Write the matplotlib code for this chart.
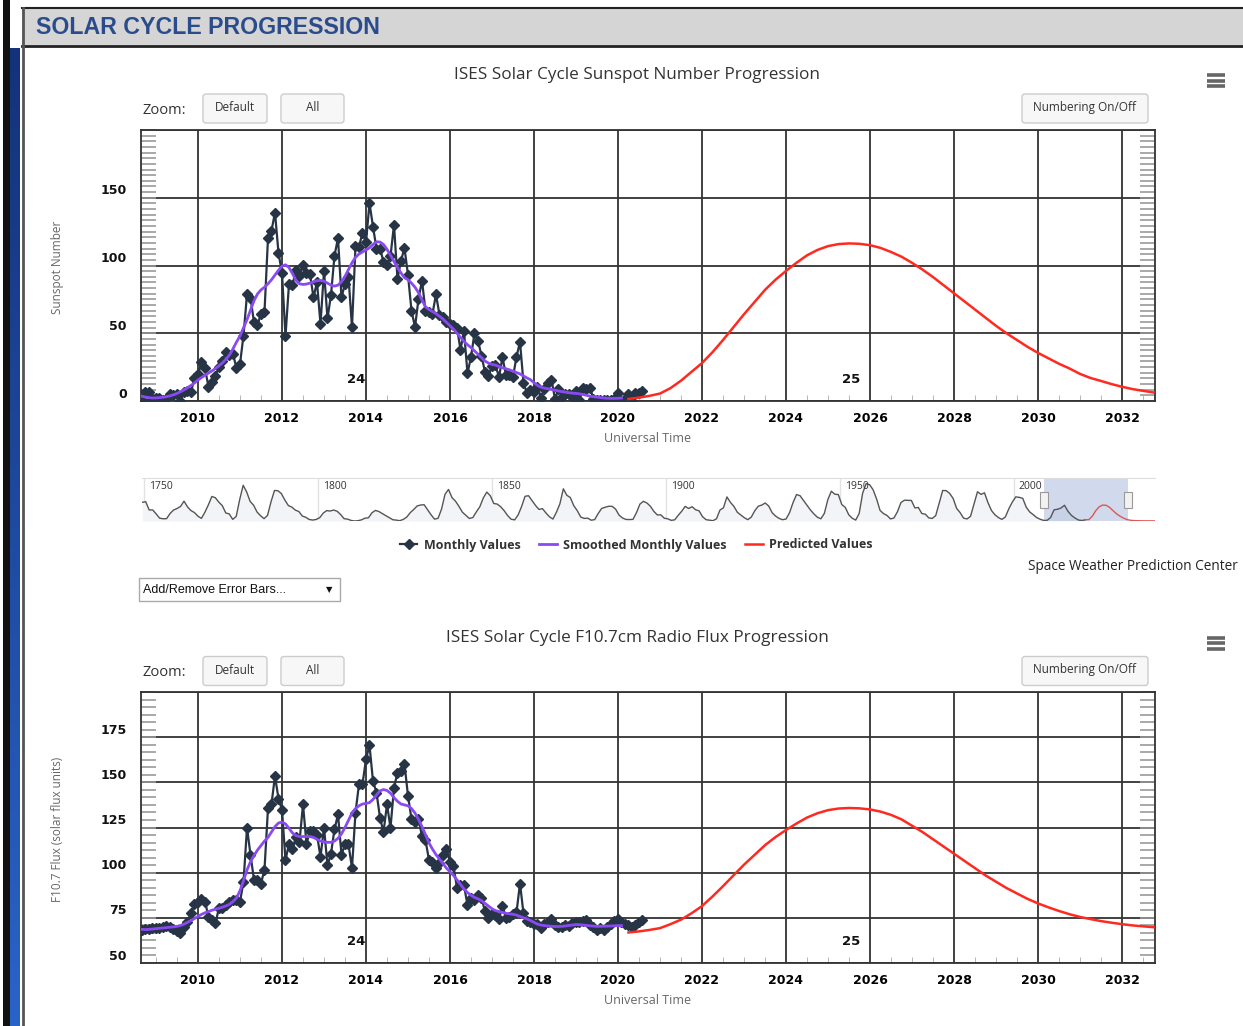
import matplotlib
matplotlib.use('Agg')
import matplotlib.pyplot as plt
import matplotlib.transforms as mtransforms
from matplotlib.patches import Rectangle, FancyBboxPatch
from matplotlib.lines import Line2D
from matplotlib.ticker import MultipleLocator
import numpy as np

W, H = 1243, 1026

# monthly sunspot number, Aug 2008 .. Aug 2020
ssn_monthly = [0.5, 1.1, 6.9, 6.5, 1.7,
               2.3, 2.2, 0.9, 1.2, 5.5, 4.4, 5.4, 0.0, 6.9, 7.6, 6.4, 17.3,
               19.6, 28.5, 24.0, 10.4, 13.9, 18.8, 25.2, 29.6, 36.4, 33.6, 34.4, 24.5,
               27.3, 48.3, 78.6, 76.1, 58.2, 56.1, 64.5, 65.8, 120.1, 125.7, 139.1, 109.3,
               94.4, 47.8, 86.6, 85.9, 96.5, 92.0, 100.1, 94.8, 93.7, 76.5, 87.6, 56.8,
               96.1, 60.9, 78.3, 107.3, 120.2, 76.7, 86.2, 91.8, 54.5, 114.4, 113.9, 124.2,
               117.0, 146.1, 128.7, 112.5, 112.5, 102.9, 100.2, 106.9, 130.0, 90.0, 103.6, 112.9,
               93.0, 66.7, 54.5, 75.3, 88.8, 66.5, 65.8, 64.4, 78.6, 63.6, 62.2, 58.0,
               57.0, 56.4, 54.1, 37.9, 51.5, 20.5, 32.4, 50.2, 44.6, 33.4, 21.4, 18.5,
               26.1, 26.4, 17.7, 32.3, 18.9, 19.2, 17.8, 32.6, 43.7, 13.2, 5.7, 8.2,
               6.8, 10.7, 2.5, 8.9, 13.1, 15.6, 1.6, 8.7, 3.3, 4.9, 4.9, 3.1,
               7.7, 0.8, 9.4, 9.1, 9.9, 1.2, 0.9, 0.5, 1.1, 0.4, 0.5, 1.5,
               6.2, 0.2, 1.5, 5.2, 0.2, 5.8, 6.1, 7.5]

# 13-month smoothed sunspot number, Aug 2008 .. Feb 2020
ssn_smoothed = [4.1, 3.5, 2.9, 2.5, 2.2,
                2.3, 2.5, 2.8, 3.2, 3.8, 4.6, 5.6, 6.8, 8.2, 9.8, 11.5, 13.3,
                15.5, 17.3, 19.0, 20.6, 22.2, 24.0, 26.0, 28.2, 30.8, 34.0, 38.5, 43.5,
                48.0, 54.0, 60.0, 67.0, 74.0, 79.0, 82.0, 84.0, 86.5, 89.5, 93.0, 96.5,
                99.5, 100.5, 98.5, 94.0, 89.0, 86.5, 86.0, 86.3, 87.0, 88.0, 88.8, 89.0,
                88.5, 87.0, 85.5, 84.8, 85.5, 88.0, 92.0, 97.0, 102.0, 106.0, 108.5, 110.0,
                111.5, 113.0, 115.5, 117.5, 117.3, 115.5, 112.0, 107.5, 103.0, 98.5, 94.5, 91.0,
                89.5, 87.0, 84.0, 80.0, 74.5, 69.5, 67.5, 66.0, 64.5, 62.5, 60.5, 58.0,
                55.5, 53.0, 50.0, 47.0, 44.0, 41.5, 39.5, 37.0, 34.5, 32.0, 29.5, 28.0,
                27.0, 26.5, 25.5, 24.5, 23.8, 23.0, 22.0, 21.0, 20.0, 18.5, 17.0, 15.7,
                13.5, 11.5, 10.2, 9.5, 9.0, 8.5, 8.0, 7.4, 6.9, 6.5, 6.1, 5.8,
                5.6, 5.3, 4.8, 4.2, 3.6, 3.2, 2.9, 2.5, 2.2, 2.0, 1.9, 1.9,
                2.0, 2.2]

# monthly F10.7 flux, Aug 2008 .. Aug 2020
f107_monthly = [67.0, 68.3, 68.7, 68.9, 69.3,
                69.3, 69.5, 70.0, 70.7, 70.0, 68.7, 67.6, 66.5, 70.0, 72.6, 77.8, 82.4,
                84.0, 85.4, 84.0, 75.7, 74.0, 72.2, 80.5, 80.5, 82.0, 83.5, 85.0, 85.0,
                84.0, 94.7, 124.8, 110.0, 96.0, 96.0, 94.0, 101.7, 135.6, 138.0, 153.5, 141.0,
                134.6, 107.0, 116.0, 113.0, 120.0, 117.0, 137.8, 116.0, 123.0, 123.0, 121.0, 108.7,
                125.0, 104.0, 110.6, 124.0, 132.2, 110.0, 115.6, 115.6, 102.6, 133.2, 149.0, 149.0,
                162.8, 170.5, 150.7, 144.3, 130.5, 122.4, 137.8, 124.8, 147.0, 155.4, 156.3, 160.0,
                142.6, 129.7, 127.8, 129.5, 120.4, 118.0, 107.0, 106.0, 102.4, 105.5, 110.0, 113.0,
                106.0, 103.5, 91.6, 93.4, 93.1, 81.9, 85.9, 85.0, 87.8, 86.1, 78.6, 75.1,
                77.3, 76.8, 74.5, 81.5, 75.0, 75.5, 77.0, 78.0, 94.0, 77.5, 73.5, 72.8,
                71.5, 71.8, 69.1, 71.8, 72.8, 74.6, 71.0, 70.0, 70.0, 71.0, 70.4, 72.0,
                72.5, 72.8, 73.3, 74.0, 71.0, 70.0, 68.2, 69.1, 68.2, 70.0, 71.8, 73.5,
                74.6, 72.8, 71.8, 71.0, 70.0, 71.0, 72.5, 74.0]

# smoothed F10.7 flux, Aug 2008 .. Feb 2020
f107_smoothed = [68.8, 68.6, 68.5, 68.6, 68.8,
                 69.0, 69.2, 69.4, 69.6, 69.8, 70.0, 70.3, 70.8, 71.5, 72.5, 73.5, 74.6,
                 75.8, 76.9, 77.8, 78.5, 79.2, 79.8, 80.3, 80.9, 81.6, 82.5, 84.0, 86.0,
                 90.0, 95.5, 101.5, 106.0, 109.5, 112.5, 115.0, 117.5, 119.5, 122.5, 125.5, 127.5,
                 128.0, 127.0, 124.5, 122.0, 120.5, 120.0, 120.0, 120.0, 120.0, 119.5, 118.5, 117.5,
                 117.0, 116.8, 116.8, 117.5, 119.0, 121.5, 125.0, 129.0, 133.0, 135.5, 137.0, 138.0,
                 138.3, 138.8, 140.5, 143.0, 145.3, 146.0, 145.5, 144.0, 141.5, 139.5, 138.0, 137.5,
                 137.0, 135.5, 133.0, 129.5, 125.5, 121.0, 116.5, 113.0, 110.0, 107.5, 105.0, 102.5,
                 100.5, 98.5, 96.0, 93.5, 91.0, 89.0, 87.5, 86.3, 85.5, 84.5, 83.0, 81.5,
                 80.0, 79.0, 78.5, 78.0, 77.5, 77.2, 77.0, 76.5, 75.8, 75.0, 74.4, 73.5,
                 72.5, 71.5, 71.0, 70.7, 70.5, 70.3, 70.2, 70.2, 70.3, 70.5, 70.8, 71.0,
                 71.3, 71.2, 71.0, 70.8, 70.6, 70.4, 70.3, 70.3, 70.4, 70.4, 70.5, 70.6,
                 70.7, 70.7]

# predicted values, quarterly from 2020.25 to 2032.75
ssn_pred = [1.5, 2.5, 3.8, 5.5, 9.5, 15.0, 21.5, 28.0, 36.0, 45.0, 54.5, 64.0, 73.0,
            82.0, 89.5, 96.0, 102.0, 107.5, 111.5, 114.3, 115.8, 116.3, 116.0, 115.0,
            113.0, 110.0, 106.5, 102.0, 97.0, 91.5, 85.5, 79.5, 73.5, 67.5, 61.5, 55.5,
            50.0, 45.0, 40.0, 35.5, 31.5, 27.5, 24.0, 20.0, 17.0, 14.8, 12.5, 10.5, 8.8,
            7.5, 6.3]
f107_pred = [66.9, 67.5, 68.3, 69.3, 71.5, 74.0, 77.5, 81.5, 86.8, 92.5, 98.5, 104.4,
             109.8, 115.2, 119.7, 123.6, 127.2, 130.5, 132.9, 134.6, 135.5, 135.8, 135.6,
             135.0, 133.8, 132.0, 129.5, 126.0, 122.5, 118.5, 114.5, 110.5, 106.5, 102.5,
             98.5, 95.0, 91.5, 88.5, 85.5, 83.0, 80.8, 78.8, 77.0, 75.5, 74.3, 73.2, 72.3,
             71.5, 70.8, 70.3, 69.8]

# yearly sunspot numbers for the navigator, 1749 .. 2020
nav_ssn = [134.7, 139.0, 79.5, 79.7, 51.2, 20.3, 16.0, 17.0, 54.0, 79.3, 90.0, 104.8,
           143.2, 102.0, 75.2, 60.7, 34.8, 19.0, 63.0, 116.3, 176.8, 168.0, 136.0, 110.8,
           58.0, 51.0, 11.7, 33.0, 154.2, 257.3, 209.8, 141.3, 113.5, 64.2, 38.0, 17.0,
           40.2, 138.2, 220.0, 218.2, 196.8, 149.8, 111.0, 100.0, 78.2, 68.3, 35.5, 26.7,
           10.7, 6.8, 11.3, 24.2, 56.7, 75.0, 71.8, 79.2, 70.3, 46.8, 16.8, 13.5, 4.2, 0.0,
           2.3, 8.3, 20.3, 23.2, 59.0, 76.3, 68.3, 52.9, 38.5, 24.2, 9.2, 6.3, 2.2, 11.4,
           28.2, 59.9, 83.0, 108.5, 115.2, 117.4, 80.8, 44.3, 13.4, 19.5, 85.8, 192.7,
           227.3, 168.7, 143.0, 105.5, 63.3, 40.3, 18.1, 25.1, 65.8, 102.7, 166.3, 208.3,
           182.5, 126.3, 122.0, 102.7, 74.1, 39.0, 12.7, 8.2, 43.4, 104.4, 178.3, 182.2,
           146.6, 112.1, 83.5, 89.2, 57.8, 30.7, 13.9, 62.8, 123.6, 232.0, 185.3, 169.2,
           110.1, 74.5, 28.3, 18.9, 20.7, 5.7, 10.0, 53.7, 90.5, 99.0, 106.1, 105.8, 86.3,
           42.4, 21.8, 11.2, 10.4, 11.8, 59.5, 121.7, 142.0, 130.0, 106.6, 69.4, 43.8, 44.4,
           20.2, 15.7, 4.6, 8.5, 40.8, 70.1, 105.5, 90.1, 102.8, 80.9, 73.2, 30.9, 9.5, 6.0,
           2.4, 16.1, 79.0, 95.0, 173.6, 134.6, 105.7, 62.7, 43.5, 23.7, 9.7, 27.9, 74.0,
           106.5, 114.7, 129.7, 108.2, 59.4, 35.1, 18.6, 9.2, 14.6, 60.2, 132.8, 190.6,
           182.6, 148.0, 113.0, 79.2, 50.8, 27.1, 16.1, 55.3, 154.3, 214.7, 193.0, 190.7,
           118.9, 98.3, 45.0, 20.1, 6.6, 54.2, 200.7, 269.3, 261.7, 225.1, 159.0, 76.4,
           53.4, 39.9, 15.0, 22.0, 66.8, 132.9, 150.0, 149.4, 148.0, 94.4, 97.6, 54.1,
           49.2, 22.5, 18.4, 39.3, 131.0, 220.1, 218.9, 198.9, 162.4, 91.0, 60.5, 20.6,
           14.8, 33.9, 123.0, 211.1, 191.8, 203.3, 133.0, 76.1, 44.9, 25.1, 11.6, 28.9,
           88.3, 136.3, 173.9, 170.4, 163.6, 99.3, 65.3, 45.8, 24.7, 12.6, 4.2, 4.8, 24.9,
           80.8, 84.5, 94.0, 113.3, 69.8, 39.8, 21.7, 7.0, 3.6, 8.8]
# yearly predicted values for the navigator, 2020 .. 2040
nav_pred = [8.8, 10.0, 35.0, 75.0, 103.0, 115.0, 113.0, 97.0, 73.0, 51.0, 34.0, 20.0,
            10.0, 5.0, 3.0, 2.0, 1.5, 1.2, 1.0, 1.0, 1.0]
nav_labels = [1750, 1800, 1850, 1900, 1950, 2000]

t_month = 2008 + 7 / 12 + np.arange(len(ssn_monthly)) / 12
t_smooth = 2008 + 7 / 12 + np.arange(len(ssn_smoothed)) / 12
t_pred = 2020.25 + 0.25 * np.arange(len(ssn_pred))
t_nav = 1749.5 + np.arange(len(nav_ssn))
t_nav_pred = 2020.5 + np.arange(len(nav_pred))

c_month = '#263445'
c_smooth = '#8a4af3'
c_pred = '#ff2a1f'
xlim = (2008.643, 2032.786)

fig = plt.figure(figsize=(W / 100, H / 100), dpi=100)
plt.rcParams['font.family'] = ['Open Sans', 'DejaVu Sans']

# page decoration in pixel coordinates
bg = fig.add_axes([0, 0, 1, 1], zorder=0)
bg.set_xlim(0, W)
bg.set_ylim(H, 0)
bg.axis('off')
bg.add_patch(Rectangle((3, 0), 7, H, fc='#111111', ec='none'))
grad = np.linspace(0, 1, 256).reshape(-1, 1)
bg.imshow(grad, extent=(10, 20, H, 48), cmap=matplotlib.colors.LinearSegmentedColormap.from_list(
    'b', ['#14327a', '#2a63c8']), aspect='auto', zorder=1)
bg.add_patch(Rectangle((22, 8), W - 22, 37, fc='#d5d5d5', ec='none'))
bg.plot([22, W], [8, 8], color='#222', lw=1.5)
bg.plot([22, W], [45.5, 45.5], color='#222', lw=2)
bg.plot([23, 23], [8, H], color='#555', lw=2)
bg.text(36, 27, 'SOLAR CYCLE PROGRESSION', fontsize=16.7, fontweight='bold',
        family='Liberation Sans', color='#2b4c8c', va='center', ha='left')


def button(x0, x1, y0, y1, label):
    bg.add_patch(FancyBboxPatch((x0, y0), x1 - x0, y1 - y0,
                                boxstyle='round,pad=0,rounding_size=3',
                                fc='#f7f7f7', ec='#cccccc', lw=1))
    bg.text((x0 + x1) / 2, (y0 + y1) / 2 - 1, label, fontsize=8.5, color='#333',
            ha='center', va='center')


def chart_frame(dy, title, ylabel):
    bg.text(637, 75 + dy, title, fontsize=12.3, color='#333', ha='center', va='center')
    bg.text(143, 110 + dy, 'Zoom:', fontsize=10.5, color='#333', ha='left', va='center')
    button(203, 267, 94 + dy, 123 + dy, 'Default')
    button(281, 344, 94 + dy, 123 + dy, 'All')
    button(1022, 1148, 94 + dy, 123 + dy, 'Numbering On/Off')
    for yy in (75, 80.5, 86):
        bg.plot([1207, 1225], [yy + dy, yy + dy], color='#666', lw=2.6,
                solid_capstyle='butt')
    bg.text(58, 267 + dy, ylabel, fontsize=8.5, color='#666', rotation=90,
            ha='center', va='center')
    bg.text(648, 438 + dy, 'Universal Time', fontsize=9, color='#666',
            ha='center', va='center')


chart_frame(0, 'ISES Solar Cycle Sunspot Number Progression', 'Sunspot Number')
chart_frame(562.5, 'ISES Solar Cycle F10.7cm Radio Flux Progression',
            'F10.7 Flux (solar flux units)')

# error bar drop-down
bg.add_patch(Rectangle((139, 578), 201, 23, fc='white', ec='#aaaaaa', lw=1))
bg.text(143, 590, 'Add/Remove Error Bars...', fontsize=9, family='Liberation Sans',
        color='#111', ha='left', va='center')
bg.text(329, 590, '\u25BC', fontsize=6, family='DejaVu Sans', color='#111',
        ha='center', va='center')
bg.text(1238, 567, 'Space Weather Prediction Center', fontsize=9.8, color='#222',
        ha='right', va='center')


def main_axes(y_top, y_bot, ylim, major, n_minor, yticks, monthly, smoothed, pred, cyc_y):
    ax = fig.add_axes([141 / W, 1 - y_bot / H, 1014 / W, (y_bot - y_top) / H], zorder=2)
    ax.plot(t_month, monthly, color=c_month, lw=1.6, marker='D', ms=4.6, zorder=3)
    ax.plot(t_smooth, smoothed, color=c_smooth, lw=2, zorder=4)
    ax.plot(t_pred, pred, color=c_pred, lw=1.8, zorder=4)
    ax.set_xlim(*xlim)
    ax.set_ylim(*ylim)
    ax.xaxis.set_major_locator(MultipleLocator(2))
    ax.xaxis.set_minor_locator(MultipleLocator(0.5))
    ax.yaxis.set_major_locator(MultipleLocator(major))
    ax.yaxis.set_minor_locator(MultipleLocator(major / n_minor))
    ax.grid(which='major', color='#333', lw=1.3)
    ax.tick_params(axis='x', which='major', length=0, pad=8, labelsize=9)
    ax.tick_params(axis='x', which='minor', direction='in', length=4, color='#aaa',
                   bottom=True, top=False)
    ax.tick_params(axis='y', which='both', direction='in', length=11, width=1.2,
                   color='#999', left=True, right=True, labelleft=False)
    for lab in ax.get_xticklabels():
        lab.set_fontweight('bold')
        lab.set_family('DejaVu Sans')
    for sp in ax.spines.values():
        sp.set_color('#333')
        sp.set_linewidth(1.3)
    trans = mtransforms.offset_copy(
        mtransforms.blended_transform_factory(ax.transAxes, ax.transData),
        fig=fig, x=-14, y=7, units='dots')
    for v in yticks:
        ax.text(0, v, str(v), transform=trans, ha='right', va='center', fontsize=9,
                fontweight='bold', family='DejaVu Sans', color='#111')
    ax.text(2013.76, cyc_y, '24', ha='center', va='center', fontsize=9.5,
            fontweight='bold', family='DejaVu Sans', color='#111')
    ax.text(2025.55, cyc_y, '25', ha='center', va='center', fontsize=9.5,
            fontweight='bold', family='DejaVu Sans', color='#111')
    return ax


main_axes(130, 401, (0, 200), 50, 12, [0, 50, 100, 150],
          ssn_monthly, ssn_smoothed, ssn_pred, 16)
main_axes(692, 963, (50, 200), 25, 6, [50, 75, 100, 125, 150, 175],
          f107_monthly, f107_smoothed, f107_pred, 62)

# navigator
nav = fig.add_axes([142 / W, 1 - 521 / H, 1013 / W, 43 / H], zorder=2)
nav.fill_between(t_nav, nav_ssn, 0, color='#f2f4f7', lw=0)
nav.plot(t_nav, nav_ssn, color='#555', lw=1)
nav.plot(t_nav_pred, nav_pred, color='#e05555', lw=1)
nav.set_xlim(1749.43, 2040.5)
nav.set_ylim(0, 310)
nav.axvspan(xlim[0], xlim[1], color=(0.4, 0.52, 0.76), alpha=0.3, lw=0)
for yr in nav_labels:
    nav.axvline(yr, color='#e3e3e3', lw=1, zorder=0)
    nav.text(yr + 1.4, 0.93, str(yr), transform=nav.get_xaxis_transform(), fontsize=7.5,
             color='#333', ha='left', va='top')
for xh in xlim:
    nav.add_patch(Rectangle((xh - 1.2, 0.3), 2.4, 0.38, transform=nav.get_xaxis_transform(),
                            fc='#f2f2f2', ec='#999', lw=0.8, zorder=5))
nav.set_xticks([])
nav.set_yticks([])
for k, sp in nav.spines.items():
    sp.set_visible(k == 'top')
nav.spines['top'].set_color('#dddddd')

handles = [Line2D([], [], color=c_month, lw=1.6, marker='D', ms=4.6),
           Line2D([], [], color=c_smooth, lw=2),
           Line2D([], [], color=c_pred, lw=1.8)]
fig.legend(handles, ['Monthly Values', 'Smoothed Monthly Values', 'Predicted Values'],
           loc='center', bbox_to_anchor=(636 / W, 1 - 545 / H), ncol=3, frameon=False,
           prop={'weight': 'bold', 'size': 9}, handlelength=1.4, columnspacing=1.5,
           handletextpad=0.5, labelcolor='#333')

fig.savefig('out.png', dpi=100)
